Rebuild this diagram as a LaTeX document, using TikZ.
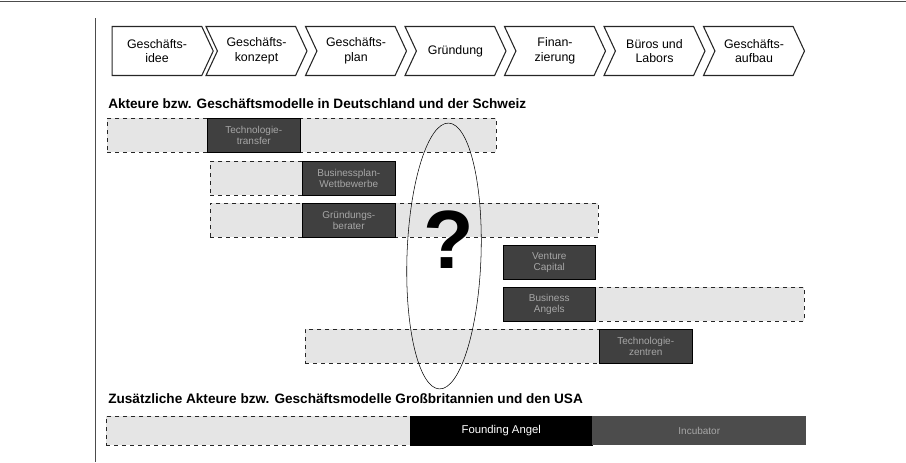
\documentclass[tikz,border=0pt]{standalone}
\usepackage{fontspec}
\setmainfont{Liberation Sans}
\usetikzlibrary{shapes.symbols,shapes.geometric,positioning}

\newcommand{\px}[1]{#1*0.75pt}

\tikzset{
	phase/.style={signal, draw=black!85, thick, signal to=east, signal from=west, signal pointer angle=130, minimum width=\px{101}, minimum height=\px{49}, inner sep=0pt, align=center, font=\fontsize{9.3}{11}\selectfont},
	hinten/.style={draw=black!85, dashed, fill=black!10, minimum height=\px{34}, anchor=north west, inner sep=0pt},
	akteur/.style={draw=black, fill=black!75, text=black!35, minimum height=\px{34}, anchor=north west, inner sep=0pt, align=center, font=\fontsize{7.5}{8.5}\selectfont},
	titel/.style={anchor=base west, inner sep=0pt, font=\bfseries\fontsize{10.2}{11}\selectfont}
}

\begin{document}
\begin{tikzpicture}[x=0.75pt, y=-0.75pt]
	\useasboundingbox (0,0) rectangle (906,462);
	% Rahmen
		\draw[black!70, thick] (0,1.5) -- (906,1.5);
		\draw[black!70] (95,18) -- (95,462);

	% Prozesskette
		\node[phase, signal from=nowhere] (idee) at (157,51) {Geschäfts-\\idee};
		\foreach \nr/\name/\txt in {1/konzept/Geschäfts-\\konzept, 2/plan/Geschäfts-\\plan, 3/gruendung/Gründung, 4/finanz/Finan-\\zierung, 5/labors/Büros und\\Labors, 6/aufbau/Geschäfts-\\aufbau}
			\node[phase] (\name) at (157+99.5*\nr,51) {\txt};

	% Deutschland und Schweiz
		\node[titel] (titelde) at (108,108) {Akteure bzw. Geschäftsmodelle in Deutschland und der Schweiz};

		\node[hinten, minimum width=\px{389}] (zeile1) at (107,118) {};
		\node[akteur, minimum width=\px{93}] (techtrans) at (207,118) {Technologie-\\transfer};

		\node[hinten, minimum width=\px{185}] (zeile2) at (210,161) {};
		\node[akteur, minimum width=\px{93}] (wettbewerb) at (302,161) {Businessplan-\\Wettbewerbe};

		\node[hinten, minimum width=\px{388}] (zeile3) at (210,203) {};
		\node[akteur, minimum width=\px{93}] (berater) at (302,203) {Gründungs-\\berater};

		\node[akteur, minimum width=\px{92}] (venture) at (503,245) {Venture\\Capital};

		\node[hinten, minimum width=\px{301}] (zeile5) at (503,287) {};
		\node[akteur, minimum width=\px{92}] (angels) at (503,287) {Business\\Angels};

		\node[hinten, minimum width=\px{387}] (zeile6) at (305,329) {};
		\node[akteur, minimum width=\px{93}] (zentren) at (599,329) {Technologie-\\zentren};

	% Luecke
		\node[draw, thin, ellipse, minimum width=\px{74}, minimum height=\px{266}, rotate=-2] (luecke) at (444,256) {};
		\node[inner sep=0pt, font=\bfseries\fontsize{62}{64}\selectfont] (frage) at (449,240) {?};

	% Grossbritannien und USA
		\node[titel] (titelusa) at (108,403) {Zusätzliche Akteure bzw. Geschäftsmodelle Großbritannien und den USA};

		\node[hinten, minimum width=\px{304}, minimum height=\px{29}] (zeile7) at (106,416) {};
		\node[akteur, fill=black, text=white, minimum width=\px{182}, minimum height=\px{29}, font=\fontsize{8.5}{9}\selectfont] (founding) at (410,416) {Founding Angel};
		\node[akteur, draw=none, fill=black!70, minimum width=\px{214}, minimum height=\px{29}] (inkubator) at (592,416) {Incubator};
\end{tikzpicture}
\end{document}
